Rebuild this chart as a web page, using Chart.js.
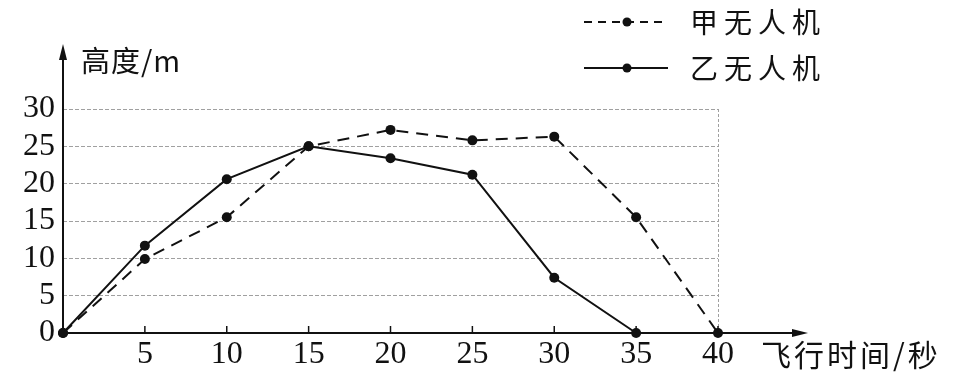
<!DOCTYPE html>
<html>
<head>
<meta charset="utf-8">
<script src="https://cdn.jsdelivr.net/npm/chart.js@4.4.1/dist/chart.umd.min.js"></script>
<style>
  html, body { margin: 0; padding: 0; background: #fff; }
  #wrap { width: 963px; height: 375px; }
</style>
</head>
<body>
<div id="wrap"><canvas id="chart"></canvas></div>
<script>
// Chart data
const flightTimes = [0, 5, 10, 15, 20, 25, 30, 35, 40];
const droneA = [0, 9.9, 15.5, 25, 27.2, 25.8, 26.3, 15.5, 0];   // 甲无人机 (dashed)
const droneB = [0, 11.7, 20.6, 25, 23.4, 21.2, 7.4, 0];         // 乙无人机 (solid)
const xTicks = [5, 10, 15, 20, 25, 30, 35, 40];
const yTicks = [0, 5, 10, 15, 20, 25, 30];
const seriesNames = ['甲无人机', '乙无人机'];

const serif = '"Liberation Serif", "DejaVu Serif", serif';
const cjk = '"Noto Sans CJK SC", "Noto Sans", sans-serif';

// Axes with arrows, inward tick marks, titles and legend
const decorPlugin = {
  id: 'decor',
  afterDraw(chart) {
    const { ctx } = chart;
    const xs = chart.scales.x;
    const y0 = chart.scales.y.getPixelForValue(0);
    const x0 = xs.getPixelForValue(0);

    ctx.save();
    ctx.strokeStyle = '#111';
    ctx.fillStyle = '#111';
    ctx.lineWidth = 2;

    // x axis + arrow
    ctx.beginPath();
    ctx.moveTo(x0, y0);
    ctx.lineTo(800, y0);
    ctx.stroke();
    ctx.beginPath();
    ctx.moveTo(808, y0);
    ctx.lineTo(792, y0 - 4);
    ctx.lineTo(792, y0 + 4);
    ctx.closePath();
    ctx.fill();

    // y axis + arrow
    ctx.beginPath();
    ctx.moveTo(x0, y0);
    ctx.lineTo(x0, 52);
    ctx.stroke();
    ctx.beginPath();
    ctx.moveTo(x0, 44);
    ctx.lineTo(x0 - 4, 60);
    ctx.lineTo(x0 + 4, 60);
    ctx.closePath();
    ctx.fill();

    // inward tick marks on x axis
    ctx.lineWidth = 1.5;
    xTicks.forEach(v => {
      const px = xs.getPixelForValue(v);
      ctx.beginPath();
      ctx.moveTo(px, y0);
      ctx.lineTo(px, y0 - 7);
      ctx.stroke();
    });

    // axis titles
    ctx.textBaseline = 'middle';
    ctx.textAlign = 'left';
    ctx.font = '29px ' + cjk;
    ctx.letterSpacing = '1px';
    ctx.fillText('高度/m', 81, 61);
    ctx.font = '30px ' + cjk;
    ctx.letterSpacing = '3px';
    ctx.fillText('飞行时间/秒', 761, 355);

    // legend
    const legendRows = [
      { y: 22, dash: [8, 6], name: seriesNames[0] },
      { y: 68, dash: [], name: seriesNames[1] }
    ];
    legendRows.forEach(row => {
      ctx.lineWidth = 2;
      ctx.setLineDash(row.dash);
      ctx.beginPath();
      ctx.moveTo(584, row.y);
      ctx.lineTo(668, row.y);
      ctx.stroke();
      ctx.setLineDash([]);
      ctx.beginPath();
      ctx.arc(627, row.y, 4.5, 0, Math.PI * 2);
      ctx.fill();
      ctx.font = '28px ' + cjk;
      ctx.letterSpacing = '6px';
      ctx.fillText(row.name, 690, row.y);
    });
    ctx.letterSpacing = '0px';
    ctx.restore();
  }
};

new Chart(document.getElementById('chart'), {
  type: 'line',
  data: {
    labels: flightTimes,
    datasets: [
      {
        label: seriesNames[0],
        data: flightTimes.map((t, i) => ({ x: t, y: droneA[i] })),
        borderColor: '#111',
        backgroundColor: '#111',
        borderWidth: 2,
        borderDash: [12, 8],
        pointRadius: 5,
        pointBorderWidth: 0,
        tension: 0
      },
      {
        label: seriesNames[1],
        data: droneB.map((v, i) => ({ x: flightTimes[i], y: v })),
        borderColor: '#111',
        backgroundColor: '#111',
        borderWidth: 2,
        pointRadius: 5,
        pointBorderWidth: 0,
        tension: 0
      }
    ]
  },
  options: {
    responsive: true,
    maintainAspectRatio: false,
    animation: false,
    clip: false,
    layout: { padding: { left: 0, right: 245, top: 109, bottom: 0 } },
    plugins: { legend: { display: false }, tooltip: { enabled: false } },
    scales: {
      x: {
        type: 'linear',
        min: 0,
        max: 40,
        afterBuildTicks: s => { s.ticks = xTicks.map(v => ({ value: v })); },
        afterFit: s => { s.height = 42; },
        border: { display: false, dash: [3, 2] },
        grid: {
          drawTicks: false,
          color: c => (c.tick && c.tick.value === 40 ? '#a0a0a0' : 'transparent'),
          lineWidth: 1
        },
        ticks: {
          color: '#111',
          font: { family: serif, size: 32 },
          padding: 2,
          maxRotation: 0,
          autoSkip: false
        }
      },
      y: {
        min: 0,
        max: 30,
        afterBuildTicks: s => { s.ticks = yTicks.map(v => ({ value: v })); },
        afterFit: s => { s.width = 63; },
        border: { display: false, dash: [4, 2] },
        grid: {
          drawTicks: false,
          color: c => (c.tick && c.tick.value === 0 ? 'transparent' : '#a0a0a0'),
          lineWidth: 1
        },
        ticks: {
          color: '#111',
          font: { family: serif, size: 32 },
          padding: 8,
          autoSkip: false
        }
      }
    }
  },
  plugins: [decorPlugin]
});
</script>
</body>
</html>
